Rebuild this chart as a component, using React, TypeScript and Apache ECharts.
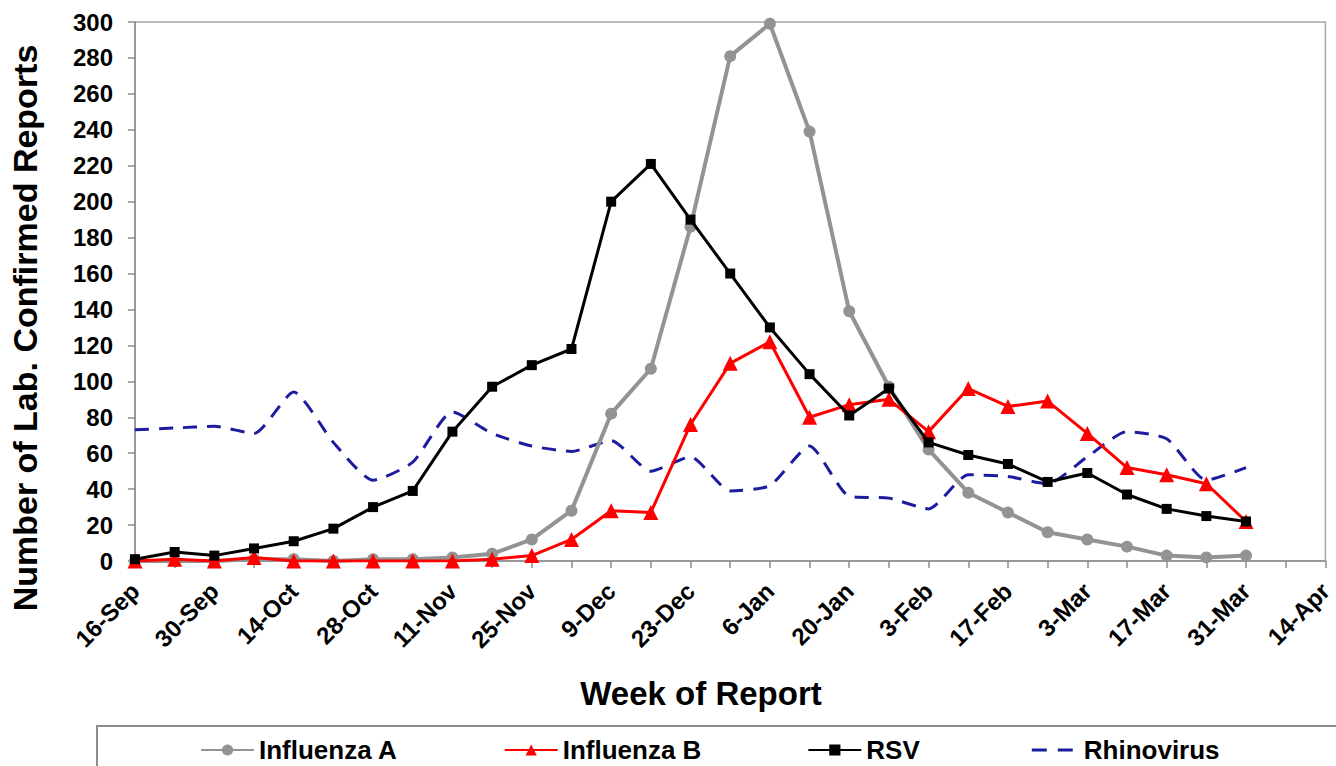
import React, { useEffect, useRef } from "react";
import * as echarts from "echarts";

const weeks = [
  "16-Sep", "23-Sep", "30-Sep", "7-Oct", "14-Oct", "21-Oct", "28-Oct", "4-Nov",
  "11-Nov", "18-Nov", "25-Nov", "2-Dec", "9-Dec", "16-Dec", "23-Dec", "30-Dec",
  "6-Jan", "13-Jan", "20-Jan", "27-Jan", "3-Feb", "10-Feb", "17-Feb", "24-Feb",
  "3-Mar", "10-Mar", "17-Mar", "24-Mar", "31-Mar", "7-Apr", "14-Apr",
];

const influenzaA = [0, 0, 0, 1, 1, 0, 1, 1, 2, 4, 12, 28, 82, 107, 186, 281, 299, 239, 139, 97, 62, 38, 27, 16, 12, 8, 3, 2, 3];
const influenzaB = [0, 1, 0, 2, 0, 0, 0, 0, 0, 1, 3, 12, 28, 27, 76, 110, 122, 80, 87, 90, 72, 96, 86, 89, 71, 52, 48, 43, 22];
const rsv = [1, 5, 3, 7, 11, 18, 30, 39, 72, 97, 109, 118, 200, 221, 190, 160, 130, 104, 81, 96, 66, 59, 54, 44, 49, 37, 29, 25, 22];
const rhinovirus = [73, 74, 75, 71, 94, 66, 45, 55, 83, 71, 64, 61, 67, 50, 58, 39, 42, 64, 36, 35, 29, 48, 47, 43, 58, 72, 68, 45, 52];

const seriesNames = ["Influenza A", "Influenza B", "RSV", "Rhinovirus"];
const yTitle = "Number of Lab. Confirmed Reports";
const xTitle = "Week of Report";

const FONT = "'Liberation Sans', Arial, Helvetica, sans-serif";

// two short dashes, with invisible corner points so the icon box spans 53x14
const DASH_ICON =
  "path://M0,0h0.01v0.01h-0.01zM53,14h0.01v0.01h-0.01zM6,5.5h15v3h-15zM32,5.5h15v3h-15z";

export default function App() {
  const ref = useRef<HTMLDivElement>(null);

  useEffect(() => {
    if (!ref.current) return;
    const chart = echarts.init(ref.current, null, { renderer: "svg" });
    const axisGray = "#8c8c8c";
    chart.setOption({
      animation: false,
      backgroundColor: "#ffffff",
      grid: {
        left: 135,
        top: 22,
        right: 10,
        bottom: 205,
        show: true,
        borderColor: "#a6a6a6",
        borderWidth: 1.5,
        containLabel: false,
      },
      legend: {
        data: [
          seriesNames[0],
          seriesNames[1],
          seriesNames[2],
          { name: seriesNames[3], icon: DASH_ICON, itemStyle: { borderWidth: 0 } },
        ],
        left: 195,
        top: 731,
        itemWidth: 53,
        itemHeight: 14,
        itemGap: 106,
        textStyle: {
          fontFamily: FONT,
          fontWeight: "bold",
          fontSize: 26,
          color: "#000",
          lineHeight: 28,
        },
      },
      xAxis: {
        type: "category",
        data: weeks,
        boundaryGap: false,
        axisLine: { lineStyle: { color: axisGray, width: 1.5 } },
        axisTick: { show: true, interval: 0, length: 7, lineStyle: { color: axisGray, width: 1.5 } },
        axisLabel: {
          interval: 1,
          rotate: 45,
          margin: 26,
          fontFamily: FONT,
          fontWeight: "bold",
          fontSize: 24,
          color: "#000",
        },
        splitLine: { show: false },
      },
      yAxis: {
        type: "value",
        min: 0,
        max: 300,
        interval: 20,
        axisLine: { show: true, lineStyle: { color: axisGray, width: 1.5 } },
        axisTick: { show: true, length: 7, lineStyle: { color: axisGray, width: 1.5 } },
        axisLabel: {
          margin: 22,
          fontFamily: FONT,
          fontWeight: "bold",
          fontSize: 24,
          color: "#000",
        },
        splitLine: { show: false },
      },
      graphic: [
        {
          type: "text",
          x: 25,
          y: 328,
          rotation: Math.PI / 2,
          style: {
            text: yTitle,
            fontFamily: FONT,
            fontWeight: "bold",
            fontSize: 34,
            fill: "#000",
            align: "center",
            verticalAlign: "middle",
          },
        },
        {
          type: "text",
          x: 701,
          y: 693,
          style: {
            text: xTitle,
            fontFamily: FONT,
            fontWeight: "bold",
            fontSize: 33,
            fill: "#000",
            align: "center",
            verticalAlign: "middle",
          },
        },
        {
          type: "rect",
          shape: { x: 97, y: 726, width: 1300, height: 100 },
          style: { fill: "none", stroke: "#8c8c8c", lineWidth: 2 },
          z: -1,
        },
      ],
      series: [
        {
          name: "Rhinovirus",
          type: "line",
          data: rhinovirus,
          symbol: "none",
          smooth: 0.2,
          color: "#1c1c9e",
          lineStyle: { color: "#1c1c9e", width: 3, type: [14, 10] },
          z: 2,
        },
        {
          name: "Influenza A",
          type: "line",
          data: influenzaA,
          symbol: "circle",
          symbolSize: 12,
          color: "#939393",
          itemStyle: { color: "#939393" },
          lineStyle: { color: "#939393", width: 4 },
          z: 3,
        },
        {
          name: "Influenza B",
          type: "line",
          data: influenzaB,
          symbol: "triangle",
          symbolSize: 15,
          color: "#ff0000",
          itemStyle: { color: "#ff0000" },
          lineStyle: { color: "#ff0000", width: 3 },
          z: 4,
        },
        {
          name: "RSV",
          type: "line",
          data: rsv,
          symbol: "rect",
          symbolSize: 10,
          color: "#000000",
          itemStyle: { color: "#000000" },
          lineStyle: { color: "#000000", width: 3 },
          z: 5,
        },
      ],
    });
    return () => chart.dispose();
  }, []);

  return (
    <div
      ref={ref}
      style={{ position: "fixed", left: 0, top: 0, width: 1336, height: 766, background: "#fff" }}
    />
  );
}
